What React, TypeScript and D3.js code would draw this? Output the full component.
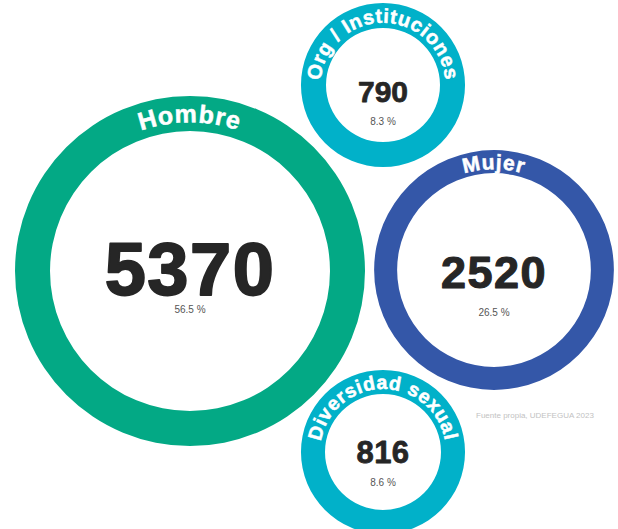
import * as React from 'react';
import { useEffect, useRef } from 'react';
import * as d3 from 'd3';

// data
const categories = ['Hombre', 'Mujer', 'Org / Instituciones', 'Diversidad sexual'];
const counts = [5370, 2520, 790, 816];
const percents = [56.5, 26.5, 8.3, 8.6];
const colors = ['#03a985', '#3457a8', '#01b1c9', '#01b1c9'];
const source = 'Fuente propia, UDEFEGUA 2023';

const width = 618;
const height = 529;

// layout (bubble centres, ring widths, text sizes)
const centers: [number, number][] = [[190, 271], [494, 270], [383, 85], [383, 452]];
const ringWidths = [35, 23, 25, 24];
const labelSizes = [25, 21, 20, 19.5];
const labelSpacing = [0.8, 0.8, 0.6, 0.6];
const numberSizes = [74, 45, 30, 31];
const numberSpacing = [1.5, 1.5, 0, 0.5];
const numberDy = [24, 18, 17, 11];
const pctDy = [42, 46, 40, 34];

const FONT = '"Liberation Sans", Arial, Helvetica, sans-serif';

export default function App() {
  const ref = useRef<SVGSVGElement>(null);

  useEffect(() => {
    const svg = d3.select(ref.current);
    svg.selectAll('*').remove();

    const r = d3.scaleSqrt().domain([0, d3.max(counts) as number]).range([0, 175]);
    const radius = (v: number) => Math.max(82, r(v));
    const pct = d3.format('.1f');

    const g = svg.selectAll('g.bubble')
      .data(categories.map((c, i) => ({ c, i, v: counts[i], p: percents[i] })))
      .enter().append('g')
      .attr('class', 'bubble')
      .attr('transform', (d) => `translate(${centers[d.i][0]},${centers[d.i][1]})`);

    g.append('path')
      .attr('d', (d) => d3.arc()({
        innerRadius: radius(d.v) - ringWidths[d.i],
        outerRadius: radius(d.v),
        startAngle: 0,
        endAngle: 2 * Math.PI,
      }) as string)
      .attr('fill', (d) => colors[d.i]);

    // baseline for curved label: full circle starting at the bottom, clockwise
    g.append('path')
      .attr('id', (d) => 'lbl' + d.i)
      .attr('fill', 'none')
      .attr('d', (d) => {
        const rr = radius(d.v) - ringWidths[d.i] + (ringWidths[d.i] - labelSizes[d.i] * 0.72) / 2;
        const p = d3.path();
        p.moveTo(0, rr);
        p.arc(0, 0, rr, Math.PI / 2, Math.PI / 2 + 2 * Math.PI * 0.999);
        return p.toString();
      });

    g.append('text')
      .attr('font-family', FONT)
      .attr('font-weight', 700)
      .attr('font-size', (d) => labelSizes[d.i])
      .attr('letter-spacing', (d) => labelSpacing[d.i])
      .attr('fill', '#fff')
      .attr('stroke', '#fff')
      .attr('stroke-width', 0.5)
      .append('textPath')
      .attr('href', (d) => '#lbl' + d.i)
      .attr('startOffset', '50%')
      .attr('text-anchor', 'middle')
      .text((d) => d.c);

    g.append('text')
      .attr('font-family', FONT)
      .attr('font-weight', 700)
      .attr('font-size', (d) => numberSizes[d.i])
      .attr('letter-spacing', (d) => numberSpacing[d.i])
      .attr('fill', '#262626')
      .attr('stroke', '#262626')
      .attr('stroke-width', (d) => numberSizes[d.i] / 40)
      .attr('stroke-linejoin', 'round')
      .attr('text-anchor', 'middle')
      .attr('y', (d) => numberDy[d.i])
      .text((d) => d.v);

    g.append('text')
      .attr('font-family', FONT)
      .attr('font-size', 10)
      .attr('fill', '#555')
      .attr('text-anchor', 'middle')
      .attr('y', (d) => pctDy[d.i])
      .text((d) => pct(d.p) + ' %');

    svg.append('text')
      .attr('x', 476)
      .attr('y', 418)
      .attr('font-family', FONT)
      .attr('font-size', 8)
      .attr('fill', '#c2c2c2')
      .text(source);
  }, []);

  return (
    <svg
      ref={ref}
      width={width}
      height={height}
      style={{ position: 'absolute', left: 0, top: 0, background: '#fff' }}
    />
  );
}
